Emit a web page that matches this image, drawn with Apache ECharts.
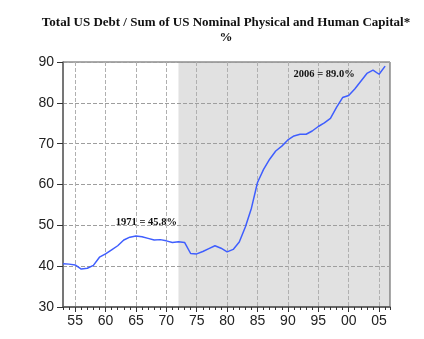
<!DOCTYPE html>
<html>
<head>
<meta charset="utf-8">
<script src="https://cdn.jsdelivr.net/npm/echarts@6/dist/echarts.min.js"></script>
<style>
  html, body { margin: 0; padding: 0; background: #fff; }
  #chart { width: 424px; height: 339px; }
</style>
</head>
<body>
<div id="chart"></div>
<script>
// Total US debt as a share of nominal physical + human capital, annual, %
const years = [
  1953, 1954, 1955, 1956, 1957, 1958, 1959, 1960, 1961, 1962,
  1963, 1964, 1965, 1966, 1967, 1968, 1969, 1970, 1971, 1972,
  1973, 1974, 1975, 1976, 1977, 1978, 1979, 1980, 1981, 1982,
  1983, 1984, 1985, 1986, 1987, 1988, 1989, 1990, 1991, 1992,
  1993, 1994, 1995, 1996, 1997, 1998, 1999, 2000, 2001, 2002,
  2003, 2004, 2005, 2006
];
const debtRatio = [
  40.6, 40.5, 40.3, 39.3, 39.5, 40.2, 42.2, 43.0, 44.0, 45.0,
  46.4, 47.1, 47.4, 47.2, 46.8, 46.4, 46.5, 46.2, 45.8, 46.0,
  45.8, 43.1, 43.0, 43.6, 44.3, 45.0, 44.4, 43.5, 44.1, 45.9,
  49.6, 54.2, 60.5, 63.7, 66.2, 68.2, 69.4, 70.9, 71.9, 72.3,
  72.3, 73.1, 74.2, 75.1, 76.2, 78.9, 81.3, 81.8, 83.4, 85.3,
  87.2, 88.0, 87.0, 89.0
];
// Labelled tick years on the x axis
const majorTickYears = [1955, 1960, 1965, 1970, 1975, 1980, 1985, 1990, 1995, 2000, 2005];
const yTicks = { min: 30, max: 90, step: 10 };
// Shaded period
const shadeFrom = 1972;
// Years called out with their value
const calloutYears = [1971, 2006];

const xMin = 1953, xMax = 2006.8;
const titleLine1 = 'Total US Debt / Sum of US Nominal Physical and Human Capital*';
const titleLine2 = '%';

const seriesData = years.map((y, i) => [y, debtRatio[i]]);
const callouts = calloutYears.map(y => {
  const v = debtRatio[years.indexOf(y)];
  return { coord: [y, v], value: v, name: String(y) };
});
const calloutOffsets = { '1971': [-26, -20], '2006': [-61, 8] };

const chart = echarts.init(document.getElementById('chart'), null, { renderer: 'canvas' });

const dashed = { type: [4, 2], width: 1 };
const titleFont = 'bold 13px "Liberation Serif", "Times New Roman", serif';

chart.setOption({
  animation: false,
  backgroundColor: '#ffffff',
  graphic: [
    {
      type: 'text', x: 226, y: 23,
      style: { text: titleLine1, fill: '#111', align: 'center', verticalAlign: 'middle', font: titleFont }
    },
    {
      type: 'text', x: 226, y: 38,
      style: { text: titleLine2, fill: '#111', align: 'center', verticalAlign: 'middle', font: titleFont }
    }
  ],
  grid: {
    left: 63, top: 62, right: 34, bottom: 32,
    show: true, z: 1.5,
    borderColor: '#555', borderWidth: 1,
    backgroundColor: 'transparent'
  },
  xAxis: [
    {
      type: 'value', min: xMin, max: xMax, position: 'bottom', z: 1.5,
      axisLine: { show: true, lineStyle: { color: '#555', width: 1.5 } },
      axisTick: {
        show: true, inside: false, length: 5,
        customValues: majorTickYears,
        lineStyle: { color: '#333', width: 1 }
      },
      axisLabel: {
        customValues: majorTickYears,
        margin: 7,
        color: '#222', fontSize: 14,
        fontFamily: '"Liberation Sans", Arial, sans-serif',
        formatter: v => String(Math.round(v) % 100).padStart(2, '0')
      },
      splitLine: { show: true, lineStyle: Object.assign({ color: '#b0b0b0' }, dashed) }
    },
    {
      // yearly minor ticks
      type: 'value', min: xMin, max: xMax, interval: 1, position: 'bottom', z: 1.5,
      axisLine: { show: false },
      axisTick: { show: true, length: 3, lineStyle: { color: '#333', width: 1 } },
      axisLabel: { show: false },
      splitLine: { show: false }
    }
  ],
  yAxis: {
    type: 'value', min: yTicks.min, max: yTicks.max, interval: yTicks.step, z: 1.5,
    axisLine: { show: true, lineStyle: { color: '#666', width: 1.5 } },
    axisTick: { show: true, inside: false, length: 6, lineStyle: { color: '#333' } },
    axisLabel: {
      margin: 9, color: '#222', fontSize: 14,
      fontFamily: '"Liberation Sans", Arial, sans-serif'
    },
    splitLine: { show: true, lineStyle: Object.assign({ color: '#9e9e9e' }, dashed) }
  },
  series: [
    {
      name: 'shade',
      type: 'line', xAxisIndex: 0, data: [], z: 1, silent: true,
      markArea: {
        silent: true,
        itemStyle: { color: '#e1e1e1' },
        data: [[{ xAxis: shadeFrom }, { xAxis: xMax }]]
      }
    },
    {
      name: 'Debt / capital',
      type: 'line', xAxisIndex: 0, z: 3,
      data: seriesData,
      showSymbol: false, symbol: 'none',
      lineStyle: { color: '#3f5efe', width: 1.5 },
      markPoint: {
        symbol: 'circle', symbolSize: 0,
        label: {
          show: true, position: 'inside',
          color: '#111', fontSize: 10.5, fontWeight: 'bold',
          fontFamily: '"Liberation Serif", "Times New Roman", serif',
          formatter: p => p.name + ' = ' + p.value.toFixed(1) + '%'
        },
        data: callouts.map(c => Object.assign({}, c, {
          label: { offset: calloutOffsets[c.name] }
        }))
      }
    }
  ]
});
</script>
</body>
</html>
